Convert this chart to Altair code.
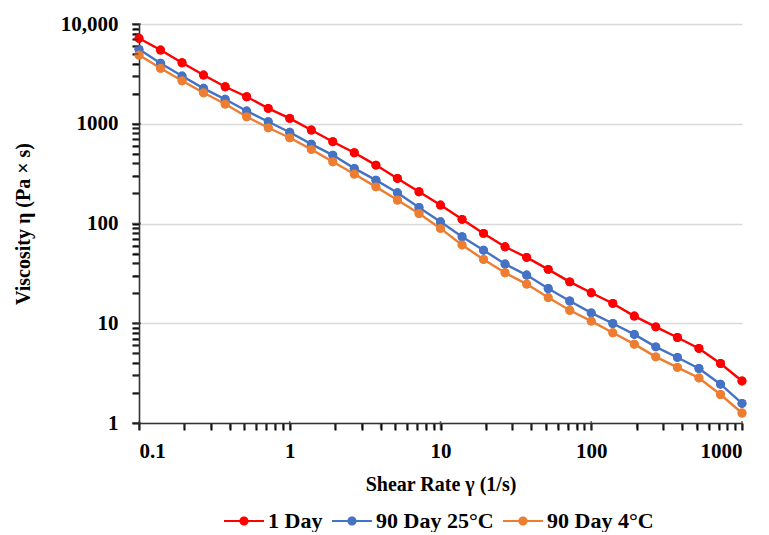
import altair as alt
import pandas as pd

# Shear rate (1/s), 7 points per decade
shear_rate = [0.1, 0.139, 0.193, 0.268, 0.373, 0.518, 0.72, 1.0, 1.39, 1.93,
              2.68, 3.73, 5.18, 7.2, 10.0, 13.9, 19.3, 26.8, 37.3, 51.8,
              72.0, 100.0, 139.0, 193.0, 268.0, 373.0, 518.0, 720.0, 1000.0]

day1 = [7190, 5480, 4090, 3076, 2350, 1866, 1426, 1132, 865, 661,
        512, 385, 283, 208, 153, 110, 79.6, 58.4, 45.7, 34.7,
        26.0, 20.2, 15.8, 11.8, 9.2, 7.2, 5.59, 3.95, 2.64]

day90_25c = [5570, 4040, 3006, 2265, 1758, 1341, 1048, 821, 625, 485,
             357, 272, 203, 145, 104, 73.6, 54.0, 39.2, 30.4, 22.3,
             16.7, 12.7, 9.95, 7.73, 5.80, 4.54, 3.52, 2.45, 1.57]

day90_4c = [4890, 3600, 2700, 2047, 1578, 1175, 912, 724, 553, 416,
            313, 233, 172, 126, 89.3, 61.0, 43.6, 32.1, 24.7, 18.1,
            13.5, 10.5, 8.02, 6.17, 4.60, 3.61, 2.83, 1.93, 1.26]

series_names = ["1 Day", "90 Day 25°C", "90 Day 4°C"]
series_colors = ["#ff0000", "#4472c4", "#ed7d31"]

# Axis tick positions (log axes: decades plus 2..9 multiples)
x_major = [0.1, 1, 10, 100, 1000]
x_minor = [m * d for d in [0.1, 1, 10, 100] for m in range(2, 10)]
y_major = [1, 10, 100, 1000, 10000]
y_minor = [m * d for d in [1, 10, 100, 1000] for m in range(2, 10)]

rows = []
for name, vals in zip(series_names, [day1, day90_25c, day90_4c]):
    for x, v in zip(shear_rate, vals):
        rows.append({"rate": x, "visc": v, "series": name})
df = pd.DataFrame(rows)

FONT = "Liberation Serif"
major = "abs(log(datum.value) / LN10 - round(log(datum.value) / LN10)) < 1e-6"

x_scale = alt.Scale(type="log", domain=[0.1, 1000], nice=False)
y_scale = alt.Scale(type="log", domain=[1, 10000], nice=False)

x_enc = alt.X(
    "rate:Q",
    scale=x_scale,
    axis=alt.Axis(
        title="Shear Rate γ (1/s)",
        tickCount=40,
        labelOverlap=False,
        labelExpr="(" + major + ") ? (datum.value < 0.5 ? '0.1' : format(datum.value, 'd')) : ''",
        grid=False,
        ticks=True,
        tickSize=7,
        tickWidth=2,
        tickColor="#000000",
        labelPadding=10,
        titlePadding=13,
    ),
)
y_enc = alt.Y(
    "visc:Q",
    scale=y_scale,
    axis=alt.Axis(
        title="Viscosity η (Pa × s)",
        tickCount=40,
        labelOverlap=False,
        labelExpr="(" + major + ") ? (datum.value > 5000 ? '10,000' : format(datum.value, 'd')) : ''",
        grid=True,
        gridOpacity={"condition": {"test": major, "value": 1}, "value": 0},
        ticks=True,
        tickSize=7,
        tickWidth=2,
        tickColor="#000000",
        labelPadding=14,
        titlePadding=27,
    ),
)

legend_path = ("M-1,-0.055 L1,-0.055 L1,0.055 L-1,0.055 Z "
               "M0.23,0 A0.23,0.23 0 1,1 -0.23,0 A0.23,0.23 0 1,1 0.23,0 Z")

color_enc = alt.Color(
    "series:N",
    scale=alt.Scale(domain=series_names, range=series_colors),
    sort=series_names,
    legend=alt.Legend(
        title=None,
        orient="none",
        legendX=85,
        legendY=477,
        direction="horizontal",
        symbolType=legend_path,
        symbolSize=1600,
        symbolStrokeWidth=0,
        labelFont=FONT,
        labelFontSize=22,
        labelFontWeight="bold",
        labelColor="black",
        labelOffset=4,
        columnPadding=9,
    ),
)

base = alt.Chart(df).encode(x=x_enc, y=y_enc, color=color_enc,
                            order=alt.Order("rate:Q"))

points = base.mark_point(filled=True, size=80, opacity=1)
lines = base.mark_line(strokeWidth=2.4)

# Tick marks drawn through the shared scales, sitting on the axis lines
tick_color = "#333333"
x_minor_ticks = alt.Chart(pd.DataFrame({"rate": x_minor})).mark_tick(
    orient="vertical", size=5, thickness=1.4, color=tick_color, yOffset=3
).encode(x=alt.X("rate:Q", scale=x_scale),
         y=alt.YDatum(1, type="quantitative", scale=y_scale))
x_major_ticks = alt.Chart(pd.DataFrame({"rate": x_major})).mark_tick(
    orient="vertical", size=9, thickness=1.6, color=tick_color, yOffset=2.5
).encode(x=alt.X("rate:Q", scale=x_scale),
         y=alt.YDatum(1, type="quantitative", scale=y_scale))
y_minor_ticks = alt.Chart(pd.DataFrame({"visc": y_minor})).mark_tick(
    orient="horizontal", size=5, thickness=1.4, color=tick_color, xOffset=-3
).encode(y=alt.Y("visc:Q", scale=y_scale),
         x=alt.XDatum(0.1, type="quantitative", scale=x_scale))
y_major_ticks = alt.Chart(pd.DataFrame({"visc": y_major})).mark_tick(
    orient="horizontal", size=9, thickness=1.6, color=tick_color, xOffset=-2.5
).encode(y=alt.Y("visc:Q", scale=y_scale),
         x=alt.XDatum(0.1, type="quantitative", scale=x_scale))

chart = alt.layer(
    points, lines, points,
    x_minor_ticks, x_major_ticks, y_minor_ticks, y_major_ticks
).properties(
    width=603,
    height=399,
    padding={"left": 5, "top": 5, "right": 5, "bottom": 0},
).configure_view(
    stroke=None
).configure_axis(
    labelFont=FONT,
    labelFontSize=21,
    labelFontWeight="bold",
    labelColor="black",
    titleFont=FONT,
    titleFontSize=20,
    titleFontWeight="bold",
    titleColor="black",
    domainColor="#333333",
    domainWidth=1.6,
    gridColor="#d9d9d9",
    gridWidth=1.5,
)

chart.save("out.html", embed_options={"renderer": "svg", "actions": False})
